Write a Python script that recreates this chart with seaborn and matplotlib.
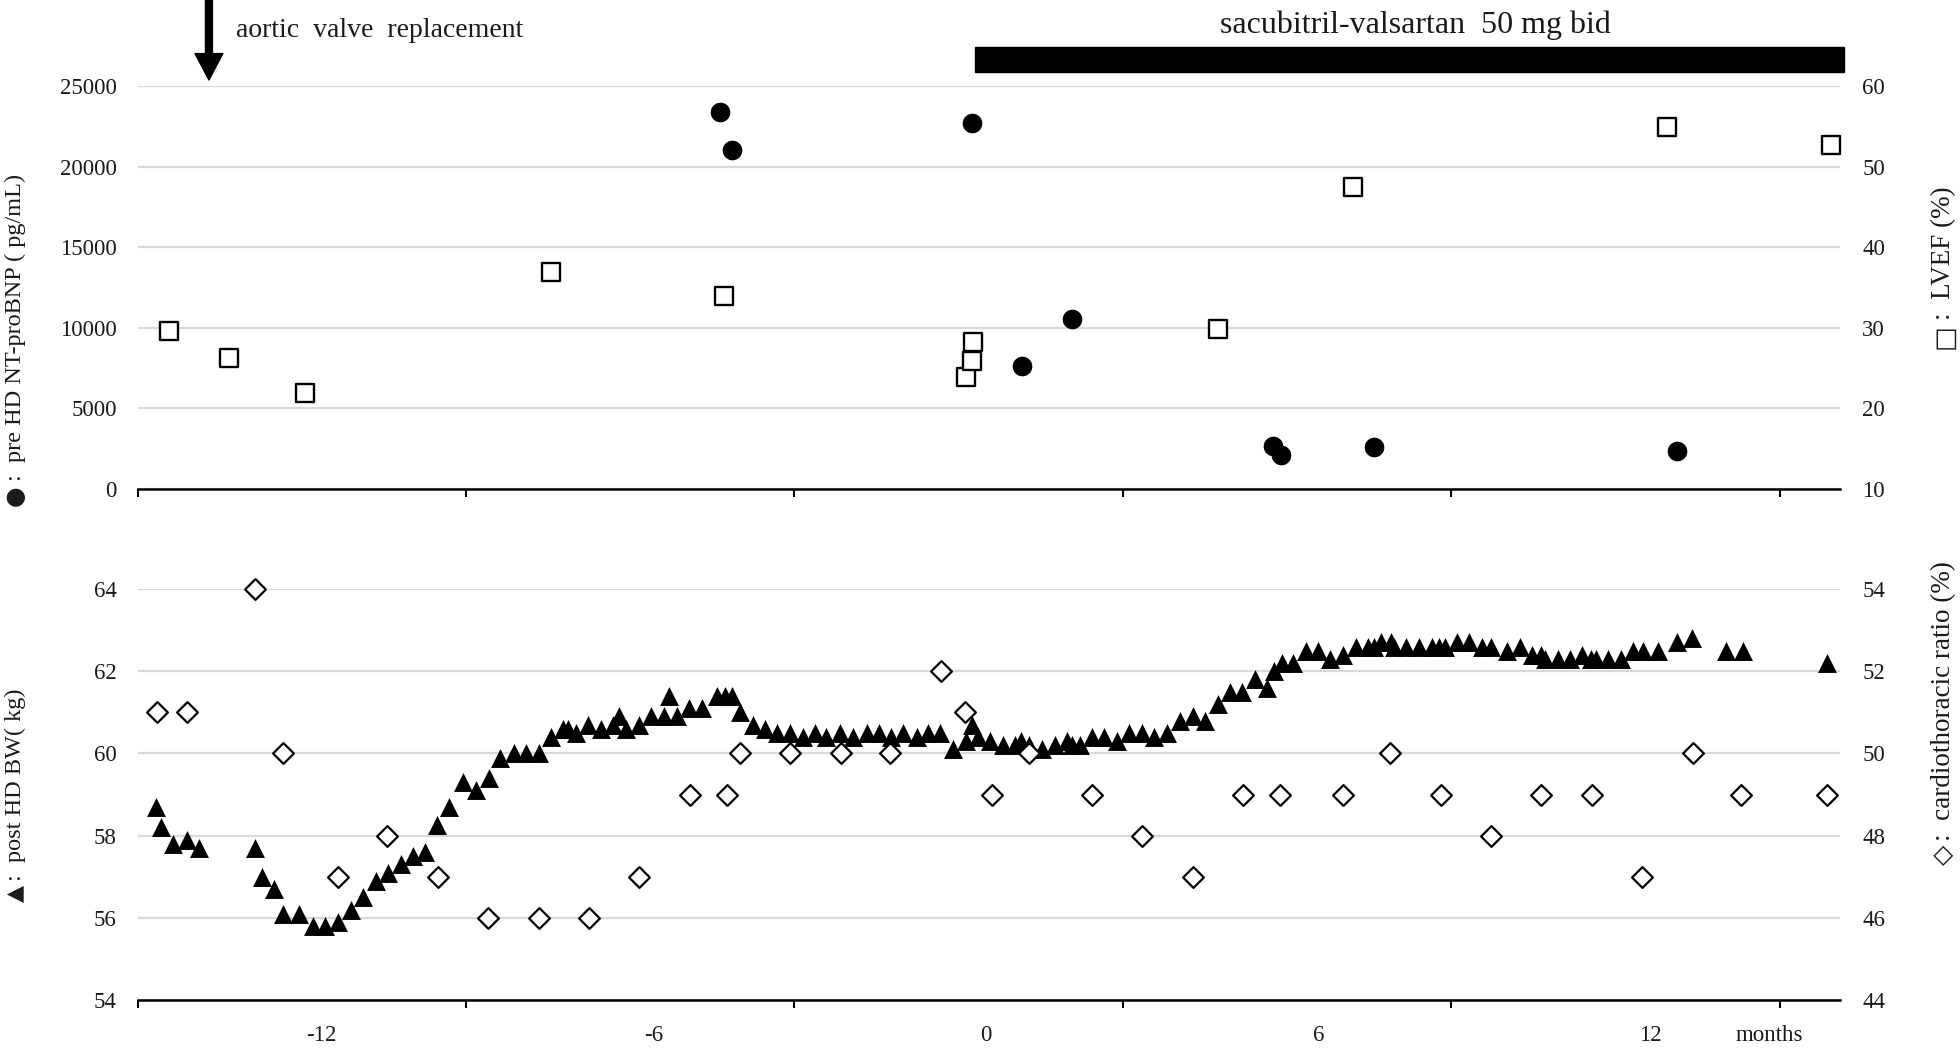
import matplotlib
matplotlib.use("Agg")
import matplotlib.pyplot as plt
from matplotlib.patches import Rectangle
from matplotlib.transforms import blended_transform_factory
import seaborn as sns

# months relative to start of sacubitril-valsartan
bnp_month = [-4.81, -4.58, -0.26, 0.65, 1.55, 5.19, 5.32, 7.01, 12.47]
bnp_value = [23400, 21000, 22700, 7630, 10550, 2670, 2110, 2590, 2380]

lvef_month = [-14.76, -13.66, -12.29, -7.85, -4.73, -0.36, -0.26, -0.23, 4.19, 6.62, 12.29, 15.25]
lvef_value = [29.6, 26.2, 21.9, 36.9, 33.9, 23.9, 25.9, 28.3, 29.8, 47.5, 54.9, 52.7]

bw_month = [-14.98, -14.90, -14.67, -14.43, -14.21, -13.20, -13.07, -12.85, -12.70, -12.40,
            -12.16, -11.94, -11.70, -11.46, -11.25, -11.01, -10.79, -10.56, -10.34, -10.12,
            -9.92, -9.69, -9.45, -9.21, -8.98, -8.77, -8.53, -8.30, -8.07, -7.85,
            -7.63, -7.54, -7.40, -7.18, -6.95, -6.73, -6.62, -6.50, -6.26, -6.04,
            -5.82, -5.72, -5.58, -5.36, -5.13, -4.86, -4.71, -4.58, -4.45, -4.21,
            -3.99, -3.78, -3.54, -3.31, -3.09, -2.88, -2.64, -2.40, -2.15, -1.94,
            -1.72, -1.49, -1.25, -1.04, -0.83, -0.59, -0.36, -0.26, -0.14, 0.08,
            0.30, 0.52, 0.64, 0.78, 1.02, 1.25, 1.46, 1.55, 1.70, 1.91,
            2.13, 2.36, 2.59, 2.81, 3.04, 3.27, 3.50, 3.73, 3.95, 4.19,
            4.40, 4.63, 4.86, 5.08, 5.20, 5.34, 5.55, 5.77, 6.00, 6.22,
            6.45, 6.69, 6.90, 7.00, 7.14, 7.31, 7.36, 7.58, 7.82, 8.05,
            8.18, 8.29, 8.50, 8.73, 8.95, 9.12, 9.40, 9.64, 9.85, 10.02,
            10.09, 10.32, 10.54, 10.76, 10.93, 11.01, 11.23, 11.46, 11.68, 11.87,
            12.14, 12.47, 12.75, 13.37, 13.67, 15.18]
bw_value = [58.7, 58.2, 57.8, 57.9, 57.7, 57.7, 57.0, 56.7, 56.1, 56.1,
            55.8, 55.8, 55.9, 56.2, 56.5, 56.9, 57.1, 57.3, 57.5, 57.6,
            58.25, 58.7, 59.3, 59.1, 59.4, 59.9, 60.0, 60.0, 60.0, 60.4,
            60.6, 60.6, 60.5, 60.7, 60.6, 60.7, 60.9, 60.6, 60.7, 60.9,
            60.9, 61.4, 60.9, 61.1, 61.1, 61.4, 61.4, 61.4, 61.0, 60.7,
            60.6, 60.5, 60.5, 60.4, 60.5, 60.4, 60.5, 60.4, 60.5, 60.5,
            60.4, 60.5, 60.4, 60.5, 60.5, 60.1, 60.3, 60.7, 60.4, 60.3,
            60.2, 60.2, 60.3, 60.2, 60.1, 60.2, 60.3, 60.2, 60.2, 60.4,
            60.4, 60.3, 60.5, 60.5, 60.4, 60.5, 60.8, 60.9, 60.8, 61.2,
            61.5, 61.5, 61.8, 61.6, 62.0, 62.2, 62.2, 62.5, 62.5, 62.3,
            62.4, 62.6, 62.6, 62.6, 62.7, 62.7, 62.6, 62.6, 62.6, 62.6,
            62.6, 62.6, 62.7, 62.7, 62.6, 62.6, 62.5, 62.6, 62.4, 62.4,
            62.3, 62.3, 62.3, 62.4, 62.3, 62.3, 62.3, 62.3, 62.5, 62.5,
            62.5, 62.7, 62.8, 62.5, 62.5, 62.2]

ctr_month = [-14.96, -14.43, -13.20, -12.70, -11.70, -10.81, -9.89, -8.99, -8.07, -7.16,
             -6.26, -5.35, -4.68, -4.45, -3.54, -2.62, -1.73, -0.82, -0.37, 0.11,
             0.77, 1.91, 2.82, 3.73, 4.64, 5.31, 6.45, 7.30, 8.22, 9.12,
             10.02, 10.94, 11.84, 12.76, 13.64, 15.19]
ctr_value = [51, 51, 54, 50, 47, 48, 47, 46, 46, 46,
             47, 49, 49, 50, 50, 50, 50, 52, 51, 49,
             50, 49, 48, 47, 49, 49, 49, 50, 49, 48,
             49, 49, 47, 50, 49, 49]

x_labels = ["-12", "-6", "0", "6", "12", "months"]
x_label_pos = [-12, -6, 0, 6, 12, 14.15]
x_min, x_max = -15.32, 15.42
x_major = [-15.32 + 5.93 * k for k in range(6)]

avr_month = -14.03
drug_start, drug_end = -0.2, 15.5

sns.set_style("white")
plt.rcParams["font.family"] = ["Liberation Serif", "DejaVu Sans"]
plt.rcParams["text.color"] = "#1a1a1a"
plt.rcParams["xtick.color"] = "#1a1a1a"
plt.rcParams["ytick.color"] = "#1a1a1a"

W, H = 1960, 1048
fig = plt.figure(figsize=(W / 100, H / 100), dpi=100)
left, right = 137.5 / W, 1840 / W
ax1 = fig.add_axes([left, 559 / H, right - left, 403 / H])
ax2 = fig.add_axes([left, 48 / H, right - left, 411 / H])
tw1 = ax1.twinx()
tw2 = ax2.twinx()

sns.scatterplot(x=bnp_month, y=bnp_value, ax=ax1, marker="o", s=200, color="black",
                linewidth=0, legend=False, zorder=3, clip_on=False)
sns.scatterplot(x=lvef_month, y=lvef_value, ax=tw1, marker="s", s=150, facecolor="white",
                edgecolor="black", linewidth=1.7, legend=False, zorder=3, clip_on=False)
sns.scatterplot(x=bw_month, y=bw_value, ax=ax2, marker="^", s=185, color="black",
                linewidth=0, legend=False, zorder=3, clip_on=False)
sns.scatterplot(x=ctr_month, y=ctr_value, ax=tw2, marker="D", s=112, facecolor="white",
                edgecolor="black", linewidth=1.6, legend=False, zorder=3, clip_on=False)


def style_main(ax, lo, hi, step):
    ax.set_xlim(x_min, x_max)
    ax.set_ylim(lo, hi)
    ax.set_yticks(range(lo, hi + 1, step))
    ax.grid(axis="y", color="#d9d9d9", lw=1.6)
    ax.grid(axis="x", visible=False)
    for s in ["top", "left", "right"]:
        ax.spines[s].set_visible(False)
    ax.spines["bottom"].set_color("black")
    ax.spines["bottom"].set_linewidth(1.8)
    ax.spines["bottom"].set_zorder(4)
    ax.set_xticks(x_major)
    ax.tick_params(axis="x", which="major", bottom=True, length=6, width=1.5, color="black",
                   direction="out", labelbottom=False)
    ax.tick_params(axis="y", left=False, length=0, pad=15, labelsize=16.5)
    ax.set_xlabel("")
    ax.set_ylabel("")


def style_twin(ax, lo, hi, step):
    ax.set_xlim(x_min, x_max)
    ax.set_ylim(lo, hi)
    ax.set_yticks(range(lo, hi + 1, step))
    ax.grid(False)
    for s in ["top", "left", "right", "bottom"]:
        ax.spines[s].set_visible(False)
    ax.tick_params(axis="y", length=0, pad=16, labelsize=16.5)
    ax.set_ylabel("")


style_main(ax1, 0, 25000, 5000)
style_main(ax2, 54, 64, 2)
style_twin(tw1, 10, 60, 10)
style_twin(tw2, 44, 54, 2)

ax2.set_xticks(x_label_pos, minor=True)
ax2.set_xticklabels(x_labels, minor=True)
ax2.tick_params(axis="x", which="minor", bottom=True, length=0, pad=18, labelsize=16.5,
                labelbottom=True)

# axis titles: marker symbol drawn in DejaVu Sans, words in the serif font
renderer = fig.canvas.get_renderer()


def side_label(x_px, y_bottom_px, symbol, words, size, sym_size):
    sym = fig.text(x_px / W, 1 - y_bottom_px / H, symbol, rotation=90, ha="center",
                   va="bottom", fontsize=sym_size, family="DejaVu Sans")
    top = sym.get_window_extent(renderer).y1
    fig.text(x_px / W, (top + 4) / H, words, rotation=90, ha="center", va="bottom",
             fontsize=size)


side_label(15, 506, "●", ":  pre HD NT-proBNP ( pg/mL)", 17.5, 17)
side_label(15, 902, "▲", ":  post HD BW( kg)", 17.5, 16)
side_label(1944, 349, "□", ":  LVEF (%)", 19.5, 19)
side_label(1944, 865, "◇", ":  cardiothoracic ratio (%)", 19.5, 19)

# annotations above the upper panel
blend = blended_transform_factory(ax1.transData, fig.transFigure)
ax1.annotate("", xy=(avr_month, 1 - 80 / H), xytext=(avr_month, 1.0),
             xycoords=blend, textcoords=blend, annotation_clip=False,
             arrowprops=dict(facecolor="black", edgecolor="black", width=5,
                             headwidth=20, headlength=19, shrink=0))
ax1.text(avr_month + 0.49, 1 - 36.7 / H, "aortic  valve  replacement", transform=blend,
         ha="left", va="baseline", fontsize=20)
fig.add_artist(Rectangle((drug_start, 1 - 72 / H), drug_end - drug_start, 25 / H,
                         transform=blend, color="black", clip_on=False))
ax1.text(7.75, 1 - 33 / H, "sacubitril-valsartan  50 mg bid",
         transform=blend, ha="center", va="baseline", fontsize=23)

fig.savefig("out.png", dpi=100, facecolor="white")
